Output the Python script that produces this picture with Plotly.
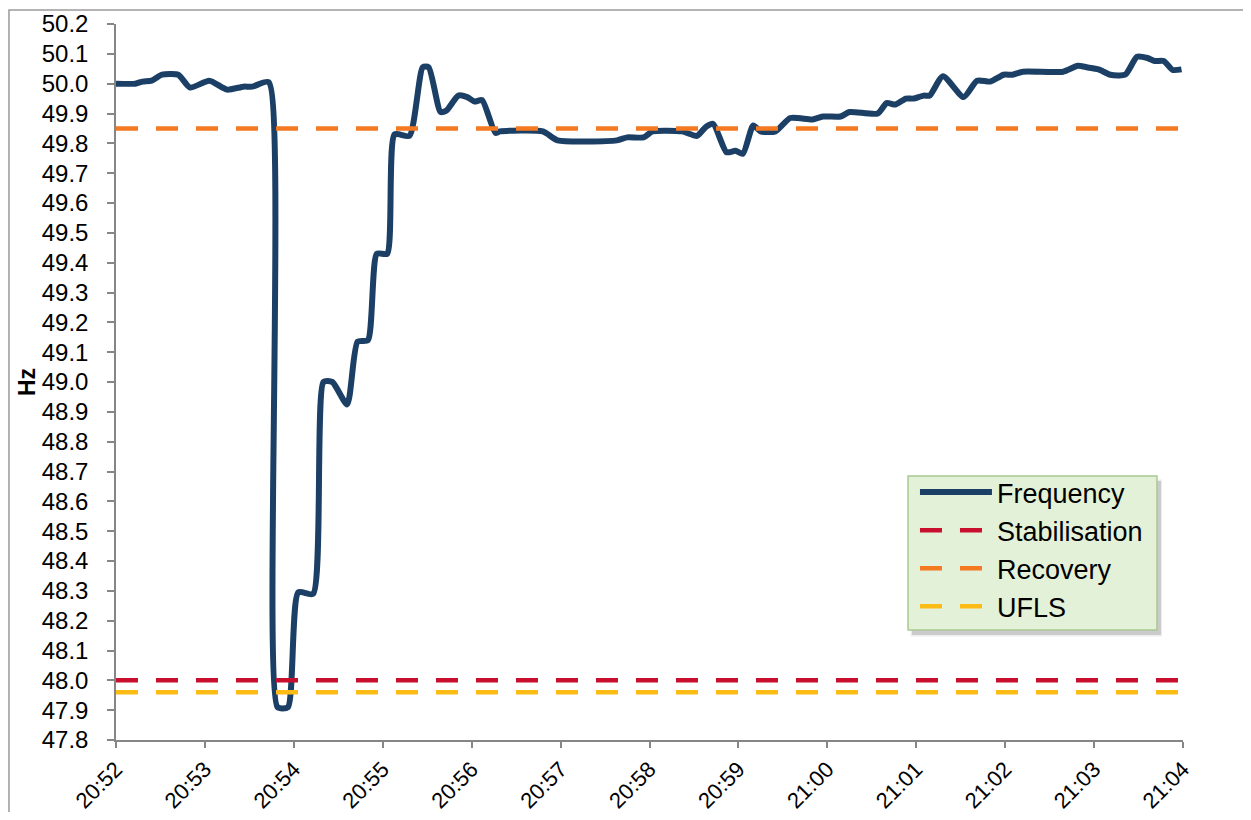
import plotly.graph_objects as go

DAY = "2000-01-01 "

# Frequency trace (time of day, Hz)
freq_time = [
    "20:52:00", "20:52:13", "20:52:18", "20:52:24", "20:52:31", "20:52:42", "20:52:50",
    "20:53:03", "20:53:15", "20:53:26", "20:53:32", "20:53:43", "20:53:49", "20:53:56",
    "20:54:03", "20:54:13", "20:54:20", "20:54:26", "20:54:36", "20:54:43", "20:54:50",
    "20:54:56", "20:55:03", "20:55:08", "20:55:18", "20:55:27", "20:55:31", "20:55:39",
    "20:55:43", "20:55:51", "20:55:57", "20:56:02", "20:56:07", "20:56:16", "20:56:19",
    "20:56:48", "20:56:58", "20:57:38", "20:57:45", "20:57:56", "20:58:02", "20:58:22",
    "20:58:32", "20:58:38", "20:58:43", "20:58:52", "20:58:58", "20:59:03", "20:59:10",
    "20:59:15", "20:59:25", "20:59:35", "20:59:50", "20:59:57", "21:00:09", "21:00:15",
    "21:00:34", "21:00:40", "21:00:46", "21:00:53", "21:00:58", "21:01:05", "21:01:09",
    "21:01:18", "21:01:32", "21:01:41", "21:01:50", "21:01:59", "21:02:05", "21:02:12",
    "21:02:39", "21:02:49", "21:02:55", "21:03:03", "21:03:11", "21:03:21", "21:03:29",
    "21:03:36", "21:03:41", "21:03:47", "21:03:53", "21:03:59",
]
freq_hz = [
    50.000, 50.000, 50.007, 50.010, 50.030, 50.030, 49.987,
    50.010, 49.980, 49.990, 49.990, 50.005, 47.910, 47.910,
    48.295, 48.290, 49.000, 49.000, 48.925, 49.135, 49.140,
    49.430, 49.430, 49.830, 49.825, 50.055, 50.055, 49.905,
    49.910, 49.960, 49.955, 49.940, 49.945, 49.835, 49.840,
    49.840, 49.810, 49.810, 49.820, 49.820, 49.840, 49.840,
    49.825, 49.855, 49.865, 49.770, 49.775, 49.765, 49.860,
    49.840, 49.840, 49.885, 49.880, 49.890, 49.890, 49.905,
    49.900, 49.935, 49.930, 49.950, 49.950, 49.960, 49.960,
    50.025, 49.955, 50.010, 50.007, 50.030, 50.030, 50.040,
    50.040, 50.060, 50.055, 50.048, 50.030, 50.030, 50.090,
    50.086, 50.076, 50.076, 50.046, 50.048,
]

# Reference levels
span_time = ["20:52:00", "21:04:00"]
stabilisation_hz = 48.0
recovery_hz = 49.85
ufls_hz = 47.96

y_ticks = [round(47.8 + 0.1 * i, 1) for i in range(25)]
x_ticks = ["20:52", "20:53", "20:54", "20:55", "20:56", "20:57", "20:58",
           "20:59", "21:00", "21:01", "21:02", "21:03", "21:04"]

fig = go.Figure()

fig.add_trace(go.Scatter(
    x=[DAY + t for t in freq_time], y=freq_hz, name="Frequency",
    mode="lines", line=dict(color="#1C3F66", width=6, shape="spline", smoothing=0.6),
    legendgroup="a",
))
for name, val, col, grp in [("Stabilisation", stabilisation_hz, "#C8102E", "b"),
                            ("Recovery", recovery_hz, "#F47920", "c"),
                            ("UFLS", ufls_hz, "#FDBB16", "d")]:
    fig.add_trace(go.Scatter(
        x=[DAY + t for t in span_time], y=[val, val], name=name, mode="lines",
        line=dict(color=col, width=4.5, dash="22px,18px"), legendgroup=grp,
    ))

fig.update_layout(
    width=1235, height=804,
    margin=dict(l=108, r=60, t=16, b=72, autoexpand=False),
    paper_bgcolor="white", plot_bgcolor="white",
    font=dict(family="Liberation Sans, Arial", size=24, color="#000000"),
    showlegend=True,
    legend=dict(
        x=0.7488, y=0.3799, xanchor="left", yanchor="top",
        bgcolor="rgba(0,0,0,0)", borderwidth=0,
        font=dict(size=27, color="#000000"), itemwidth=72,
        traceorder="grouped", tracegroupgap=0,
    ),
    shapes=[
        # outer chart border
        dict(type="rect", xref="paper", yref="paper",
             x0=-0.1003, x1=1.3, y0=-0.3, y1=1.0196,
             line=dict(color="#9A9A9A", width=1.5), fillcolor="rgba(0,0,0,0)",
             layer="below"),
        # legend shadow
        dict(type="rect", xref="paper", yref="paper",
             x0=0.7447, x1=0.9803, y0=0.1445, y1=0.3640,
             line=dict(width=0), fillcolor="rgba(0,0,0,0.07)", layer="above"),
        dict(type="rect", xref="paper", yref="paper",
             x0=0.7460, x1=0.9794, y0=0.1466, y1=0.3617,
             line=dict(width=0), fillcolor="rgba(0,0,0,0.14)", layer="above"),
        # legend box
        dict(type="rect", xref="paper", yref="paper",
             x0=0.7423, x1=0.9756, y0=0.1536, y1=0.3687,
             line=dict(color="#A9C993", width=1.5), fillcolor="#E3F1D8", layer="above"),
    ],
)

fig.update_xaxes(
    type="date", automargin=False,
    range=[DAY + "20:52:00", DAY + "21:04:00"],
    tickvals=[DAY + t + ":00" for t in x_ticks], ticktext=x_ticks,
    tickangle=-45, ticks="outside", ticklen=6, tickcolor="#868686", tickwidth=1.5,
    showline=True, linecolor="#868686", linewidth=1.5, showgrid=False, zeroline=False,
    tickfont=dict(size=22),
)
fig.update_yaxes(
    automargin=False,
    range=[47.8, 50.2], tickvals=y_ticks, tickformat=".1f",
    ticks="outside", ticklen=7, tickcolor="#868686", tickwidth=1.5, ticklabelstandoff=14,
    showline=True, linecolor="#868686", linewidth=1.5, showgrid=False, zeroline=False,
    tickfont=dict(size=24),
    title=dict(text="<b>Hz</b>", font=dict(size=23), standoff=0),
)

fig.write_html("out.html")
